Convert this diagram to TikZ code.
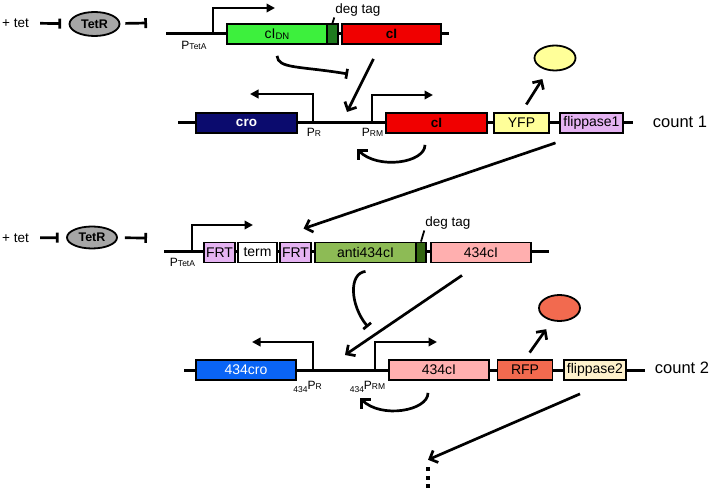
\documentclass[tikz,border=0pt]{standalone}
\usepackage{fontspec}
\setmainfont{Liberation Sans}
\usepackage{tikz}
\usetikzlibrary{arrows.meta,shapes.geometric}
\definecolor{dngreen}{HTML}{3DF03D}
\definecolor{tagdark}{HTML}{1E7A1E}
\definecolor{lamred}{HTML}{F00000}
\definecolor{cronavy}{HTML}{0B0B6E}
\definecolor{yfpyellow}{HTML}{FFFF99}
\definecolor{lilac}{HTML}{E5B3F2}
\definecolor{tetgray}{HTML}{A6A6A6}
\definecolor{antigreen}{HTML}{8DBB55}
\definecolor{tagolive}{HTML}{336611}
\definecolor{pinkish}{HTML}{FFAFAF}
\definecolor{croblue}{HTML}{0A64F5}
\definecolor{rfpred}{HTML}{F26A4F}
\definecolor{cream}{HTML}{FFF2CC}
\tikzset{
  every node/.style={font=\fontsize{13.5}{15}\selectfont},
  boldtxt/.style={font=\fontsize{13.5}{15}\selectfont\bfseries},
  gene/.style={draw,line width=1.8pt,minimum height=20pt,inner sep=0pt,font=\fontsize{14}{15}\selectfont},
  tagbox/.style={gene,minimum width=10pt},
  dna/.style={line width=3pt},
  prom/.style={line width=2.7pt,-{Triangle[length=8.5pt,width=8.5pt]}},
  act/.style={line width=2.7pt,-{Straight Barb[length=6.5pt,width=13pt]}},
  inhib/.style={line width=2.7pt,-{Bar[width=10pt]}},
  tetblock/.style={inhib,shorten <=10pt,shorten >=7.5pt},
  repr/.style={ellipse,draw,line width=1.8pt,fill=tetgray,minimum width=50pt,minimum height=24pt,inner sep=0pt,font=\fontsize{12.5}{12}\selectfont\bfseries},
  prot/.style={ellipse,draw,line width=1.8pt,minimum width=41pt,minimum height=25pt},
  plabel/.style={inner sep=0pt,font=\fontsize{12}{12}\selectfont},
  note/.style={inner sep=1pt},
  tagline/.style={line width=1.8pt},
  countlbl/.style={inner sep=0pt,font=\fontsize{16.5}{18}\selectfont},
  dots/.style={inner sep=0pt,align=center,font=\fontsize{8.5}{8.5}\selectfont}
}
\begin{document}
\begin{tikzpicture}[x=1pt,y=-1pt]
  \useasboundingbox (0,0) rectangle (710,489);

  \node[note] (tet1) at (15.5,23) {+ tet};
  \node[repr] (tetr1) at (94.5,24) {TetR};
  \coordinate (rep1) at (147,23);
  \draw[tetblock] (tet1) -- (tetr1);
  \draw[inhib,shorten <=5pt] (tetr1) -- (rep1);

  \coordinate (dna1l) at (166,34);
  \coordinate (dna1r) at (449,34);
  \draw[dna] (dna1l) -- (dna1r);
  \coordinate (ptet1) at (213,34);
  \draw[prom] (ptet1) -- ++(0,-26) -- ++(62,0);
  \node[plabel] (ptetl1) at (194,45) {P{\fontsize{8.5}{8}\selectfont TetA}};
  \node[gene,fill=dngreen,minimum width=100pt] (cidn) at (277,34) {cI{\fontsize{9.5}{9}\selectfont\raisebox{-1pt}{DN}}};
  \node[tagbox,fill=tagdark,minimum width=11pt] (deg1) at (332.5,34) {};
  \node[gene,fill=lamred,boldtxt,minimum width=99pt] (ci1) at (391.5,34) {cI};
  \node[note] (degl1) at (358,10) {deg tag};
  \draw[tagline] (deg1.north) -- (degl1.south west);

  \coordinate (dna2l) at (178,123);
  \coordinate (dna2r) at (633,123);
  \draw[dna] (dna2l) -- (dna2r);
  \node[gene,fill=cronavy,text=white,boldtxt,minimum width=101pt] (cro) at (246.5,123) {cro};
  \coordinate (pr) at (313,123);
  \draw[prom] (pr) -- ++(0,-29) -- ++(-63,0);
  \coordinate (prm) at (372,123);
  \draw[prom] (prm) -- ++(0,-28) -- ++(61,0);
  \node[plabel] (prl) at (314,132) {P{\fontsize{8.5}{8}\selectfont R}};
  \node[plabel] (prml) at (372.5,132) {P{\fontsize{8.5}{8}\selectfont RM}};
  \node[gene,fill=lamred,boldtxt,minimum width=101pt] (ci2) at (436.5,123) {cI};
  \node[gene,fill=yfpyellow,minimum width=55pt] (yfp) at (521.5,123) {YFP};
  \node[gene,fill=lilac,minimum width=63pt] (flp1) at (591.5,123) {flippase1};
  \node[countlbl] (count1) at (680,122) {count 1};
  \node[prot,fill=yfpyellow] (yfpp) at (555,58) {};

  \coordinate (opinh1) at (348,74);
  \coordinate (opact1) at (347,112);
  \coordinate (sa1) at (357,149);
  \draw[inhib] (cidn.south) ++(0,11) .. controls +(1,13) and +(-48,-8) .. (opinh1);
  \draw[act] ([xshift=-18pt,yshift=-14pt]ci1.south) -- (opact1);
  \draw[act] ([xshift=-11.5pt,yshift=-11pt]ci2.south) .. controls +(0,18) and +(21,21) .. (sa1);
  \draw[act,shorten <=9pt,shorten >=10pt] (yfp.north) -- (yfpp.240);

  \node[note] (tet2) at (15.5,238) {+ tet};
  \node[repr,minimum height=22pt] (tetr2) at (92,237.5) {TetR};
  \coordinate (rep2) at (147,238);
  \draw[tetblock] (tet2) -- (tetr2);
  \draw[inhib,shorten <=7pt] (tetr2) -- (rep2);

  \coordinate (dna3l) at (164,252);
  \coordinate (dna3r) at (549,252);
  \draw[dna] (dna3l) -- (dna3r);
  \coordinate (ptet2) at (192,252);
  \draw[prom] (ptet2) -- ++(0,-27) -- ++(61,0);
  \node[plabel] (ptetl2) at (182.5,262) {P{\fontsize{8.5}{8}\selectfont TetA}};
  \node[gene,fill=lilac,minimum width=31pt] (frt1) at (219.5,252.5) {FRT};
  \node[gene,fill=white,minimum width=39pt] (term) at (257.5,252.5) {term};
  \node[gene,fill=lilac,minimum width=31pt] (frt2) at (295.5,252.5) {FRT};
  \node[gene,fill=antigreen,minimum width=101pt] (anti) at (365.5,252.5) {anti434cI};
  \node[tagbox,fill=tagolive] (deg2) at (421,252.5) {};
  \node[gene,fill=pinkish,minimum width=100pt] (ci434) at (481,252.5) {434cI};
  \node[note] (degl2) at (448,223) {deg tag};
  \draw[tagline] (deg2.north) -- (degl2.south west);

  \draw[act] ([xshift=-36pt,yshift=-9pt]flp1.south) -- ([xshift=8pt,yshift=13pt]frt2.north);

  \coordinate (dna4l) at (184,370);
  \coordinate (dna4r) at (645,370);
  \draw[dna] (dna4l) -- (dna4r);
  \node[gene,fill=croblue,text=white,minimum width=100pt] (cro434) at (246,370) {434cro};
  \coordinate (pr4) at (313,370);
  \draw[prom] (pr4) -- ++(0,-28) -- ++(-61,0);
  \coordinate (prm4) at (375,370);
  \draw[prom] (prm4) -- ++(0,-28) -- ++(62,0);
  \node[plabel] (prl4) at (307.5,387) {{\fontsize{8.5}{8}\selectfont\raisebox{-3pt}{434}}P{\fontsize{8.5}{8}\selectfont R}};
  \node[plabel] (prml4) at (367.5,387) {{\fontsize{8.5}{8}\selectfont\raisebox{-3pt}{434}}P{\fontsize{8.5}{8}\selectfont RM}};
  \node[gene,fill=pinkish,minimum width=100pt] (ci4) at (439,370) {434cI};
  \node[gene,fill=rfpred,minimum width=55pt] (rfp) at (525,370) {RFP};
  \node[gene,fill=cream,minimum width=62pt] (flp2) at (595,370) {flippase2};
  \node[countlbl] (count2) at (682,368) {count 2};
  \node[prot,fill=rfpred,minimum height=26pt] (rfpp) at (559.5,308) {};
  \node[dots] (more) at (428,477.5) {\rule{4pt}{4pt}\\\rule{4pt}{4pt}\\\rule{4pt}{4pt}};

  \coordinate (opinh2) at (368,327);
  \coordinate (opact2) at (345,355);
  \coordinate (sa2) at (360,398);
  \draw[inhib] ([yshift=-8pt]anti.south) .. controls +(-17,2) and +(-18,-22) .. (opinh2);
  \draw[act] ([xshift=-19pt,yshift=-12pt]ci434.south) -- (opact2);
  \draw[act] ([xshift=-11pt,yshift=-12pt]ci4.south) .. controls +(0,18) and +(21,21) .. (sa2);
  \draw[act,shorten <=8pt,shorten >=10pt] (rfp.north) -- (rfpp.240);
  \draw[act] ([xshift=-15pt,yshift=-13pt]flp2.south) -- ([yshift=7pt]more.north);
\end{tikzpicture}
\end{document}
